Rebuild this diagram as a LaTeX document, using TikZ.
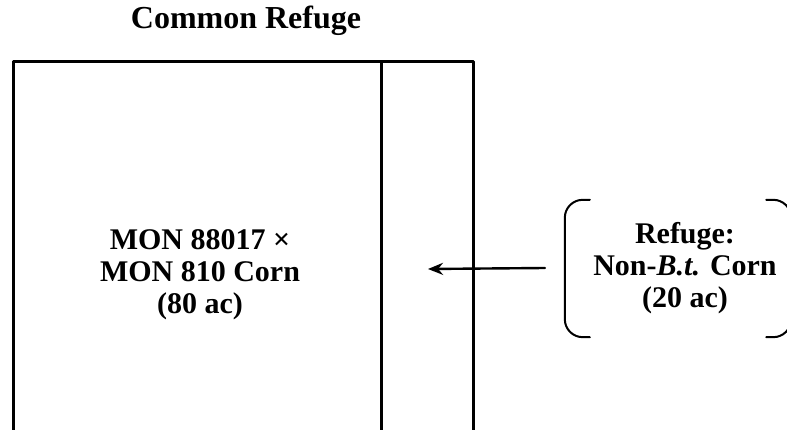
\documentclass[tikz,border=0pt]{standalone}
\usepackage{fontspec}
\setmainfont{Liberation Serif}
\usetikzlibrary{positioning,arrows.meta}
\begin{document}
\begin{tikzpicture}[x=1pt,y=-1pt, line join=round, line cap=round,font=\fontsize{30}{32}\selectfont\bfseries,>={Stealth[length=15pt,width=12pt]}]
			\useasboundingbox (0,0) rectangle (787,430);
			\node[font=\fontsize{32}{34}\selectfont\bfseries] (title) at (246,21) {Common Refuge};
			\draw[line width=3pt] (13,62) rectangle (473,431);
			\draw[line width=3pt] (381,62)--(381,431);
			\node[align=center] (bt) at (200,275) {MON 88017 ×\\MON 810 Corn\\(80 ac)};
			\node[align=center] (refuge) at (685,268) {Refuge:\\Non-\textit{B.t.} Corn\\(20 ac)};
			\node[minimum width=226pt,minimum height=137pt,inner sep=0pt] (brace) at (678,268.5) {};
			\draw[line width=2pt,rounded corners=18pt] ([xshift=25pt]brace.north west)-|(brace.south west)--++(25pt,0);
			\draw[line width=2pt,rounded corners=18pt] ([xshift=-25pt]brace.north east)-|(brace.south east)--++(-25pt,0);
			\coordinate (tip) at (428,269);
			\draw[->,line width=2.4pt] ([xshift=-20pt,yshift=0.5pt]brace.west)--(tip);
	\end{tikzpicture}
\end{document}
